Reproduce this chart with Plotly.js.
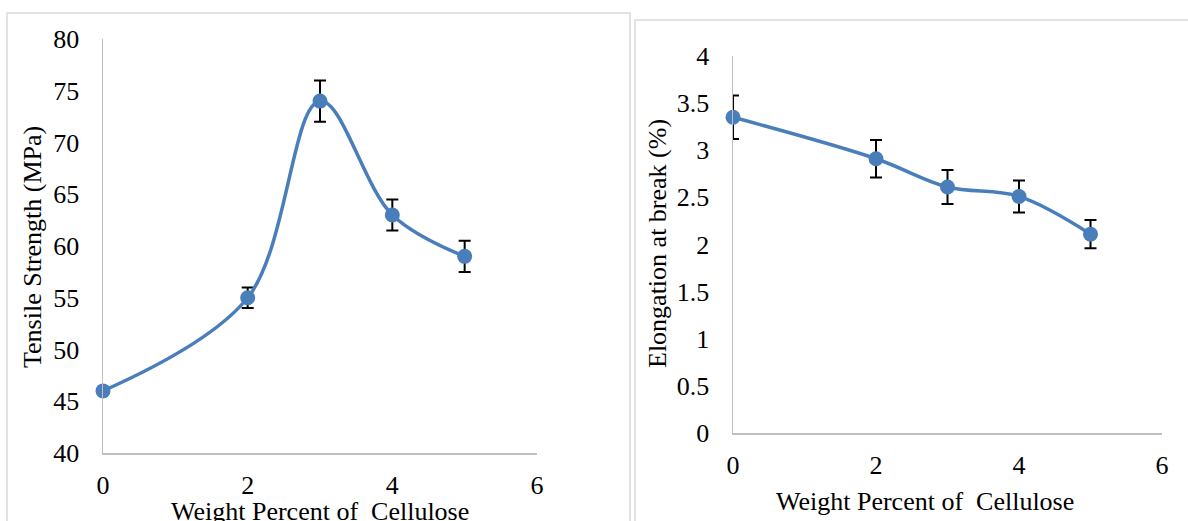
<!DOCTYPE html>
<html><head><meta charset="utf-8">
<script src="https://cdn.plot.ly/plotly-3.0.1.min.js"></script>
<style>html,body{margin:0;padding:0;background:#fff}#chart{width:1188px;height:521px}</style>
</head><body><div id="chart"></div>
<script>
// Data
const cellulose = [0, 2, 3, 4, 5];
const tensileStrength = [46, 55, 74, 63, 59];
const tensileError = [0.3, 1, 2, 1.5, 1.5];
const elongation = [3.35, 2.91, 2.61, 2.51, 2.11];
const elongationError = [0.23, 0.2, 0.18, 0.17, 0.15];
const xTicks = [0, 2, 4, 6];
const yTicksLeft = [40, 45, 50, 55, 60, 65, 70, 75, 80];
const yTicksRight = [0, 0.5, 1, 1.5, 2, 2.5, 3, 3.5, 4];
const labels = {
  x: "Weight Percent of  Cellulose",
  yLeft: "Tensile Strength (MPa)",
  yRight: "Elongation at break (%)"
};

const W = 1188, H = 521;
const px = v => v / W, py = v => 1 - v / H;
const blue = '#4a7ebb';
const font = 'Liberation Serif';

function series(y, err, xa, ya) {
  return {
    x: cellulose, y: y, xaxis: xa, yaxis: ya, type: 'scatter', mode: 'lines+markers',
    line: {color: blue, width: 3.5, shape: 'spline', smoothing: 1},
    marker: {color: blue, size: 15},
    error_y: {type: 'data', array: err, visible: true, color: '#000', thickness: 2, width: 6},
    hoverinfo: 'none', showlegend: false, cliponaxis: false
  };
}

const axisCommon = {
  showgrid: false, zeroline: false, showline: true, linecolor: '#bfbfbf', linewidth: 1.5,
  ticks: '', tickfont: {family: font, size: 26, color: '#000'}, fixedrange: true
};

const layout = {
  width: W, height: H, margin: {l: 0, r: 0, t: 0, b: 0},
  paper_bgcolor: '#fff', plot_bgcolor: '#fff',
  font: {family: font, color: '#000'},
  xaxis: Object.assign({}, axisCommon, {domain: [px(103), px(537)], range: [0, 6], tickvals: xTicks, anchor: 'y', ticklabelstandoff: 8}),
  yaxis: Object.assign({}, axisCommon, {domain: [py(453), py(39)], range: [40, 80], tickvals: yTicksLeft, anchor: 'x', ticklabelstandoff: 17}),
  xaxis2: Object.assign({}, axisCommon, {domain: [px(733), px(1162)], range: [0, 6], tickvals: xTicks, anchor: 'y2', ticklabelstandoff: 8}),
  yaxis2: Object.assign({}, axisCommon, {domain: [py(433), py(56)], range: [0, 4], tickvals: yTicksRight, anchor: 'x2', ticklabelstandoff: 17}),
  shapes: [
    {type: 'rect', xref: 'paper', yref: 'paper', x0: px(7), x1: px(630), y0: py(540), y1: py(13), line: {color: '#d9d9d9', width: 1.5}, layer: 'below'},
    {type: 'rect', xref: 'paper', yref: 'paper', x0: px(635), x1: px(1210), y0: py(540), y1: py(20), line: {color: '#d9d9d9', width: 1.5}, layer: 'below'}
  ],
  annotations: [
    {text: labels.x, xref: 'paper', yref: 'paper', x: px(320), y: py(495), xanchor: 'center', yanchor: 'top', showarrow: false, font: {family: font, size: 26, color: '#000'}},
    {text: labels.x, xref: 'paper', yref: 'paper', x: px(925), y: py(485), xanchor: 'center', yanchor: 'top', showarrow: false, font: {family: font, size: 26, color: '#000'}},
    {text: labels.yLeft, xref: 'paper', yref: 'paper', x: px(32), y: py(247), xanchor: 'center', yanchor: 'middle', textangle: -90, showarrow: false, font: {family: font, size: 26, color: '#000'}},
    {text: labels.yRight, xref: 'paper', yref: 'paper', x: px(657), y: py(244), xanchor: 'center', yanchor: 'middle', textangle: -90, showarrow: false, font: {family: font, size: 26, color: '#000'}}
  ]
};

function draw() {
  Plotly.newPlot('chart', [
    series(tensileStrength, tensileError, 'x', 'y'),
    series(elongation, elongationError, 'x2', 'y2')
  ], layout, {displayModeBar: false, staticPlot: true});
}
if (document.fonts && document.fonts.load) {
  document.fonts.load('26px "Liberation Serif"').then(draw, draw);
} else { draw(); }
</script></body></html>
